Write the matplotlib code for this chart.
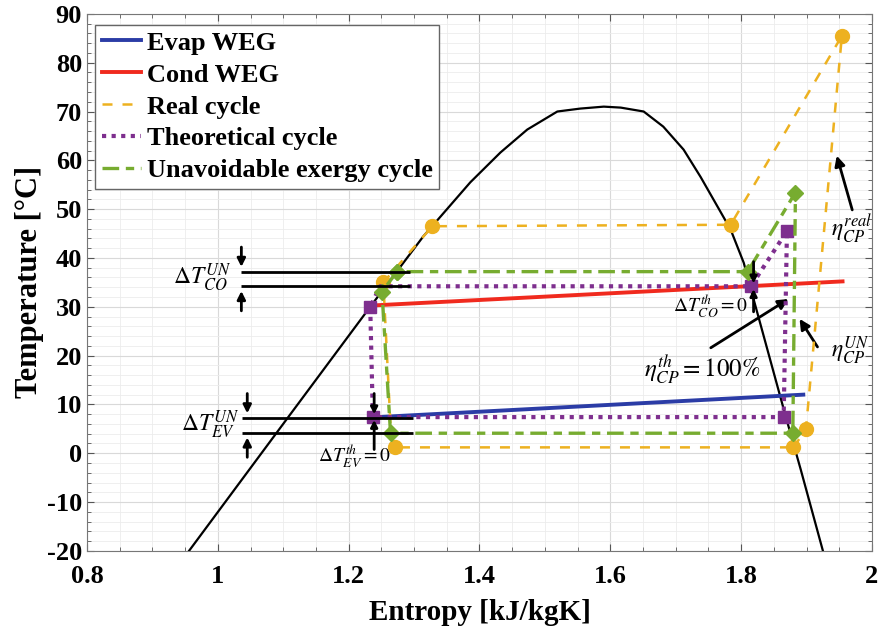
import matplotlib
matplotlib.use("Agg")
import matplotlib.pyplot as plt
from matplotlib.ticker import MultipleLocator

# saturation dome
s_dome = [0.956, 1.106, 1.233, 1.314, 1.386, 1.432, 1.473, 1.519, 1.554, 1.59,
          1.616, 1.651, 1.681, 1.712, 1.738, 1.764, 1.784, 1.804, 1.812,
          1.868, 1.891, 1.925]
T_dome = [-20, 7.1, 30, 44.4, 55.5, 61.6, 66.3, 70, 70.6, 71,
          70.8, 70, 66.9, 62.2, 56.6, 50.5, 45.8, 39, 35,
          7.6, -3.3, -20]

# water-ethylene glycol lines
s_evap = [1.244, 1.895]
T_evap = [7.4, 12.0]
s_cond = [1.241, 1.955]
T_cond = [30.3, 35.2]

# real cycle
s_real = [1.880, 1.899, 1.954, 1.784, 1.328, 1.253, 1.265, 1.271, 1.880]
T_real = [1.2, 4.9, 85.5, 46.8, 46.5, 35.0, 3.0, 1.2, 1.2]
real_marks = [0, 1, 2, 3, 4, 5, 7]

# theoretical cycle
s_theo = [1.233, 1.237, 1.865, 1.870, 1.815, 1.248, 1.233]
T_theo = [29.9, 7.4, 7.4, 45.5, 34.2, 34.2, 29.9]
theo_marks = [0, 1, 2, 3, 4]

# unavoidable exergy cycle
s_un = [1.274, 1.251, 1.264, 1.879, 1.883, 1.810, 1.274]
T_un = [37.2, 33.1, 4.1, 4.1, 53.4, 37.2, 37.2]

c_blue = "#2b3ca6"
c_red = "#f02a1e"
c_orange = "#EDB120"
c_purple = "#7E2F8E"
c_green = "#77AC30"

plt.rcParams["font.family"] = "Liberation Serif"
plt.rcParams["mathtext.fontset"] = "stix"
plt.rcParams["axes.unicode_minus"] = False

fig = plt.figure(figsize=(8.84, 6.31), dpi=100)
ax = fig.add_axes([0.0984, 0.127, 0.888, 0.851])

ax.plot(s_dome, T_dome, color="black", lw=1.6, zorder=3)

ax.plot(s_evap, T_evap, color=c_blue, lw=2.8, label="Evap WEG", zorder=4)
ax.plot(s_cond, T_cond, color=c_red, lw=2.8, label="Cond WEG", zorder=4)
ax.plot(s_real, T_real, color=c_orange, lw=1.8, ls=(0, (4, 4)), marker="o",
        ms=10, markevery=real_marks, label="Real cycle", zorder=5)
ax.plot(s_theo, T_theo, color=c_purple, lw=3, ls=(0, (1, 1.3)), marker="s",
        ms=8, markevery=theo_marks, label="Theoretical cycle", zorder=6)
ax.plot(s_un, T_un, color=c_green, lw=2.4, ls=(0, (5, 2, 2.5, 2)), marker="D",
        ms=8, label="Unavoidable exergy cycle", zorder=6)

arrow = dict(arrowstyle="-|>", color="black", lw=2, mutation_scale=12)
small_arrow = dict(arrowstyle="-|>", color="black", lw=2, mutation_scale=10)
big_arrow = dict(arrowstyle="-|>", color="black", lw=2, mutation_scale=15)

# delta T annotations (condenser)
ax.hlines([37.2, 34.2], 1.036, 1.294, color="black", lw=2, zorder=7)
ax.annotate("", xy=(1.036, 37.6), xytext=(1.036, 42.8), arrowprops=arrow)
ax.annotate("", xy=(1.036, 33.8), xytext=(1.036, 28.6), arrowprops=arrow)
ax.text(1.022, 35.9, r"$\Delta T_{CO}^{UN}$", fontsize=17, ha="right", va="center")

# delta T annotations (evaporator)
ax.hlines([7.2, 4.2], 1.037, 1.299, color="black", lw=2, zorder=7)
ax.annotate("", xy=(1.045, 7.6), xytext=(1.045, 12.8), arrowprops=arrow)
ax.annotate("", xy=(1.045, 3.8), xytext=(1.045, -1.4), arrowprops=arrow)
ax.text(1.034, 5.9, r"$\Delta T_{EV}^{UN}$", fontsize=17, ha="right", va="center")

# theoretical delta T = 0
ax.annotate("", xy=(1.239, 7.4), xytext=(1.239, 12.8), arrowprops=small_arrow, zorder=8)
ax.annotate("", xy=(1.239, 7.4), xytext=(1.239, 0.2), arrowprops=small_arrow, zorder=8)
ax.text(1.209, -0.7, r"$\Delta T_{EV}^{th} = 0$", fontsize=14, ha="center", va="center")

ax.annotate("", xy=(1.819, 34.2), xytext=(1.819, 39.8), arrowprops=small_arrow, zorder=8)
ax.annotate("", xy=(1.819, 34.2), xytext=(1.819, 28.4), arrowprops=small_arrow, zorder=8)
ax.text(1.753, 30.0, r"$\Delta T_{CO}^{th} = 0$", fontsize=14, ha="center", va="center")

# compressor efficiencies
ax.annotate("", xy=(1.876, 31.9), xytext=(1.750, 21.3), arrowprops=big_arrow)
ax.text(1.741, 17.0, r"$\eta_{CP}^{th} = 100\%$", fontsize=18, ha="center", va="center")

ax.annotate("", xy=(1.887, 28.0), xytext=(1.919, 21.3), arrowprops=big_arrow)
ax.text(1.937, 21.0, r"$\eta_{CP}^{UN}$", fontsize=17, ha="left", va="center")

ax.annotate("", xy=(1.945, 61.5), xytext=(1.971, 49.3), arrowprops=big_arrow)
ax.text(1.937, 46.0, r"$\eta_{CP}^{real}$", fontsize=17, ha="left", va="center",
        clip_on=False)

ax.set_xlim(0.8, 2)
ax.set_ylim(-20, 90)
ax.xaxis.set_minor_locator(MultipleLocator(0.05))
ax.yaxis.set_major_locator(MultipleLocator(10))
ax.yaxis.set_minor_locator(MultipleLocator(2))
ax.set_xticks([0.8, 1.0, 1.2, 1.4, 1.6, 1.8, 2.0])
ax.set_xticklabels(["0.8", "1", "1.2", "1.4", "1.6", "1.8", "2"])
ax.grid(which="major", color="#d9d9d9", lw=0.8)
ax.grid(which="minor", color="#ececec", lw=0.6)
ax.set_axisbelow(True)
ax.tick_params(which="both", direction="in", top=True, right=True, color="#555555")
ax.tick_params(which="major", length=5, labelsize=19)
ax.tick_params(axis="x", which="major", pad=10)
ax.tick_params(which="minor", length=3)
for lbl in ax.get_xticklabels() + ax.get_yticklabels():
    lbl.set_fontweight("bold")
for sp in ax.spines.values():
    sp.set_color("#777777")

ax.set_xlabel("Entropy [kJ/kgK]", fontsize=21, fontweight="bold", labelpad=8)
ax.set_ylabel("Temperature [\u00b0C]", fontsize=22, fontweight="bold", labelpad=2)

leg = ax.legend(loc="upper left", prop={"weight": "bold", "size": 19},
                handlelength=1.5, handletextpad=0.2, labelspacing=0.32,
                borderpad=0.25, borderaxespad=0, fancybox=False, framealpha=1,
                edgecolor="#666666", bbox_to_anchor=(0.0105, 0.98))
for h in leg.get_lines():
    h.set_marker("")

fig.savefig("out.png", dpi=100)
